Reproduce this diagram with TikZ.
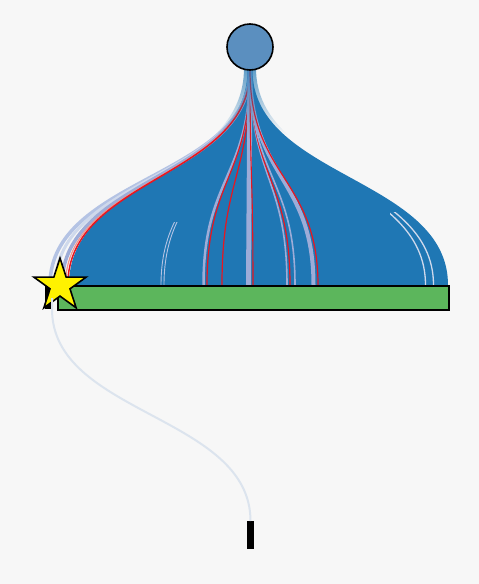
\documentclass[tikz,border=0pt]{standalone}
\usetikzlibrary{shapes.geometric,fadings}
\definecolor{bg}{RGB}{247,247,247}
\definecolor{fanblue}{RGB}{31,119,180}
\definecolor{srcblue}{RGB}{91,143,191}
\definecolor{lav}{RGB}{157,172,216}
\definecolor{lavlight}{RGB}{180,195,228}
\definecolor{lavpale}{RGB}{207,217,236}
\definecolor{lred}{RGB}{232,22,32}
\definecolor{salmon}{RGB}{244,150,140}
\definecolor{barGreen}{RGB}{92,182,92}
\definecolor{faint}{RGB}{220,228,238}
\newcommand\fanlink[3]{\draw[line width=#3, draw=#2] (250,70) .. controls (250,177.5) and (#1,177.5) .. (#1,285);}
\newcommand\fanshape{(247.5,70) .. controls (247.5,177.5) and (69,177.5) .. (69,285)
  -- (448,285) .. controls (448,177.5) and (252.5,177.5) .. (252.5,70) -- cycle}
\begin{document}
\begin{tikzpicture}[x=1pt,y=-1pt,
  nodebox/.style={draw=black, line width=1.6pt, inner sep=0pt},
  blackbar/.style={fill=black, inner sep=0pt, draw=none}]
\useasboundingbox (0,0) rectangle (479,584);
\fill[bg] (0,0) rectangle (479,584);
% fan of links
\fill[fanblue] \fanshape;
% left edge strands
\fanlink{50}{lavlight}{3.5}
\fanlink{55.5}{lavpale}{3}
\fanlink{62}{lav}{3.5}
\fanlink{65.5}{salmon}{1.2}
\fanlink{67.8}{lred}{1.5}
% partially hidden strands
\begin{scope}
\clip (150,222) rectangle (180,285);
\fanlink{161}{lavlight}{0.9}
\fanlink{164}{lavlight}{0.9}
\end{scope}
\begin{scope}
\clip (390,212) rectangle (445,285);
\fanlink{425.5}{lavpale}{1.3}
\fanlink{433.5}{lavpale}{1.3}
\end{scope}
% middle strands
\fanlink{203.5}{lav}{2.5}
\fanlink{207}{lred}{1.2}
\fanlink{222}{lred}{1.2}
\fanlink{248.5}{lav}{5}
\fanlink{253}{lred}{1.1}
\fanlink{287}{lav}{1.6}
\fanlink{290}{lred}{1.2}
\fanlink{295}{lav}{1.6}
\fanlink{313.5}{lav}{4}
\fanlink{318}{lred}{1.2}
% blue veil over the converging neck
\begin{scope}
\clip (244,68) .. controls (244,177.5) and (69,177.5) .. (69,285)
  -- (448,285) .. controls (448,177.5) and (256,177.5) .. (256,68) -- cycle;
\fill[fanblue, opacity=0.7, path fading=south] (200,68) rectangle (300,135);
\end{scope}
% nodes
\node[blackbar, minimum width=6pt, minimum height=24pt, anchor=north west] (lnode) at (45,285) {};
\node[nodebox, fill=barGreen, minimum width=391pt, minimum height=24pt, anchor=north west] (bar) at (57,285) {};
\node[star, star points=5, star point ratio=2.618, fill=yellow, draw=black, line width=1.6pt, minimum size=55pt, inner sep=0pt] (star) at (60,285.6) {};
\node[blackbar, minimum width=7pt, minimum height=28pt, anchor=north] (bnode) at (250.5,521) {};
\draw[faint, line width=2pt] (52,298) -- (52,309) .. controls (52,415) and (250.5,415) .. (bnode.north);
\node[circle, nodebox, fill=srcblue, minimum size=46pt] (src) at (250,47) {};
\end{tikzpicture}
\end{document}
